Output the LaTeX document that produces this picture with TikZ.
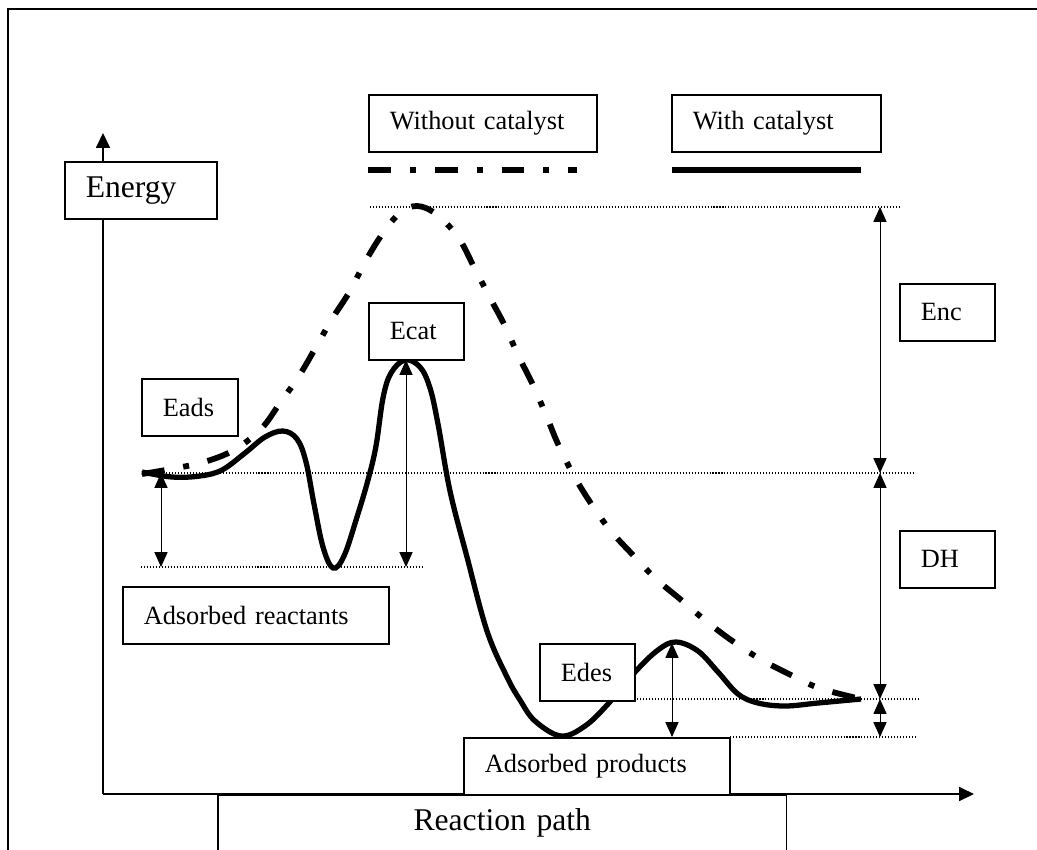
\documentclass[tikz,border=0pt]{standalone}
\usepackage{fontspec}
\setmainfont{Liberation Serif}
\usetikzlibrary{arrows.meta}

\begin{document}
\begin{tikzpicture}[
  x=0.02cm, y=-0.02cm,
  lbl/.style={draw, fill=white, line width=0.9pt, inner xsep=0.42cm, inner ysep=0pt,
    minimum height=1.14cm, align=left, anchor=north west, font=\fontsize{15}{18}\selectfont},
  big/.style={font=\fontsize{18}{21}\selectfont},
  level/.style={line width=0.6pt, dash pattern=on 0.6pt off 1.1pt},
  dim/.style={line width=0.55pt, {Triangle[length=8.5pt,width=7.5pt]}-{Triangle[length=8.5pt,width=7.5pt]}},
  axis/.style={line width=0.8pt, -{Triangle[length=8.5pt,width=8pt]}},
  nocat/.style={line width=3.3pt, dash pattern=on 13pt off 10.8pt on 3.4pt off 10.8pt},
  withcat/.style={line width=3pt}
]
\useasboundingbox (0,0) rectangle (1037,849);
\clip (0,0) rectangle (1037,849);

\draw[line width=1.1pt] (8,9) rectangle (1070,880);

% axes
\coordinate (O) at (103,794);
\coordinate (ytip) at (103,133);
\coordinate (xtip) at (974,794);
\draw[axis] (O) -- (ytip);
\draw[axis] (O) -- (xtip);

% energy levels
\draw[level] (370,207) -- (900,207);
\draw[level] (142,473) -- (915,473);
\draw[level] (141,567) -- (423,567);
\draw[level] (637,699) -- (918,699);
\draw[level] (730,737) -- (917,737);

% legend lines
\draw[nocat] (368,170) -- (577,170);
\draw[withcat] (672,170) -- (861,170);

% without catalyst
\draw[nocat] plot[smooth, tension=0.6] coordinates {(142,474) (171,469) (204,462) (234,450) (261,429)
  (280,403) (299,376) (316,347) (332,319) (350,291) (365,262) (383,233) (400,213) (417,206) (436,214)
  (458,237) (474,267) (489,296) (505,326) (518,355) (533,385) (546,415) (558,444) (573,474) (590,502)
  (610,530) (632,554) (655,578) (680,599) (706,621) (731,640) (760,659) (789,674) (819,688) (861,699)};

% with catalyst
\draw[withcat] plot[smooth, tension=0.6] coordinates {(142,472) (172,477) (200,476) (222,470) (245,453)
  (265,437) (283,431) (297,439) (306,462) (314,504) (323,547) (333,568) (344,556) (357,517) (368,480)
  (376,446) (383,398) (391,373) (405,360) (420,367) (430,388) (438,424) (450,491) (467,557) (487,631)
  (507,677) (520,700) (535,721) (561,736) (585,726) (608,704) (635,672) (658,650) (676,642) (698,651)
  (718,672) (738,694) (758,703) (785,706) (818,703) (861,699)};

% arrow ends
\coordinate (nctop) at (880,207);
\coordinate (ncreac) at (880,473);
\coordinate (ncprod) at (880,699);
\coordinate (ncads) at (880,737);
\coordinate (adstop) at (161,473);
\coordinate (adsbot) at (161,567);
\coordinate (cattop) at (406,360);
\coordinate (catbot) at (406,567);
\coordinate (destop) at (672,643);
\coordinate (desbot) at (672,737);

\draw[dim] (ncreac) -- (nctop);
\draw[dim] (ncreac) -- (ncprod);
\draw[dim] (ncprod) -- (ncads);
\draw[dim] (adstop) -- (adsbot);
\draw[dim] (cattop) -- (catbot);
\draw[dim] (destop) -- (desbot);

% labels
\node[lbl, big, text width=2.2cm] (energy) at (64,161) {Energy};
\node[lbl, text width=3.72cm] (without) at (368,94) {Without catalyst};
\node[lbl, text width=3.34cm] (with) at (671,94) {With catalyst};
\node[lbl, text width=1.06cm] (ecat) at (368,302) {Ecat};
\node[lbl, text width=1.06cm] (enc) at (899,283) {Enc};
\node[lbl, text width=1.08cm] (eads) at (141,378) {Eads};
\node[lbl, text width=4.48cm] (reac) at (122,586) {Adsorbed reactants};
\node[lbl, text width=1.06cm] (edes) at (539,643) {Edes};
\node[lbl, text width=4.48cm] (prod) at (463,737) {Adsorbed products};
\node[lbl, text width=1.06cm] (dh) at (899,530) {DH};
\node[lbl, big, align=center, text width=10.54cm] (path) at (217,794) {Reaction path};

\end{tikzpicture}
\end{document}
